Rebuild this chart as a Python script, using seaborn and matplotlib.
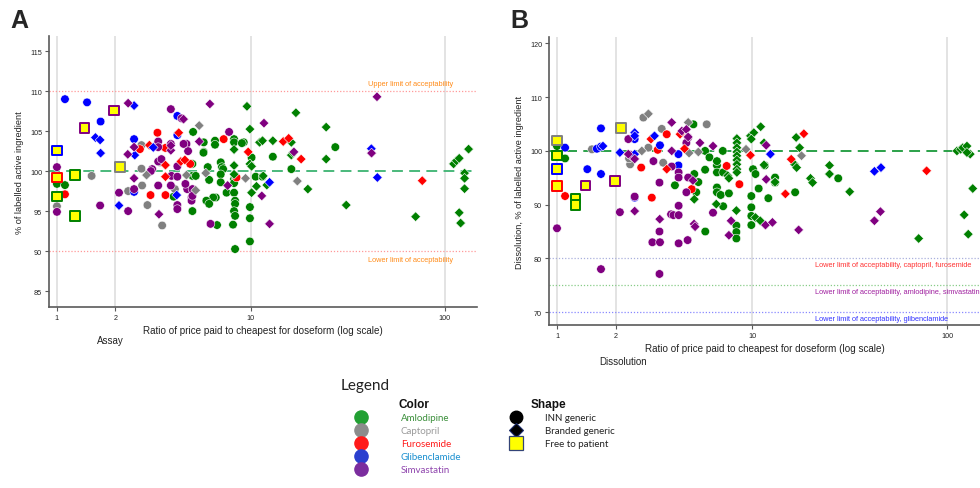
import numpy as np
import pandas as pd
import matplotlib
matplotlib.use("Agg")
import matplotlib.pyplot as plt
from matplotlib.lines import Line2D
import seaborn as sns

sns.set_theme(style="white")
plt.rcParams['font.family'] = ['Liberation Sans', 'DejaVu Sans']

# ---------------- categories / styles ----------------
drugs = ["Amlodipine", "Captopril", "Furosemide", "Glibenclamide", "Simvastatin"]
drug_colors = ["#008000", "#808080", "#ff0000", "#0000ff", "#800080"]
legend_marker_colors = ["#22a033", "#8c8c8c", "#ff1a1a", "#2a3fcf", "#7b2d9e"]
legend_text_colors = ["#3b8f3b", "#9a9a9a", "#ff1a1a", "#1a8fd0", "#8e44ad"]
shape_types = ["INN generic", "Branded generic", "Free to patient"]
x_ticks = [1, 2, 10, 100]
x_tick_labels = ["1", "2", "10", "100"]
assay_y_ticks = [85, 90, 95, 100, 105, 110, 115]
diss_y_ticks = [70, 80, 90, 100, 110, 120]

# ---------------- Panel A: Assay (ratio, % of labelled) ----------------
assay_amlodipine_inn = [
    (1.0, 98.4), (1.10, 98.25), (4.0, 96.8), (5.04, 104.9), (6.54, 103.8), (6.54, 103.3),
    (8.2, 104.0), (8.2, 103.6), (9.2, 103.6), (5.72, 103.6), (5.72, 102.4), (27.3, 103.0),
    (13.0, 101.8), (10.1, 101.7), (16.2, 100.25), (5.0, 100.9), (5.0, 99.4), (6.0, 100.5),
    (7.0, 101.1), (7.1, 100.5), (7.2, 100.25), (10.6, 99.3), (11.5, 99.3), (6.1, 98.9),
    (7.0, 99.6), (7.0, 98.6), (8.2, 99.0), (8.2, 98.5), (8.3, 99.4), (7.5, 97.3), (6.6, 96.7),
    (6.4, 96.7), (5.9, 96.3), (6.1, 95.9), (5.0, 95.0), (8.2, 97.3), (8.3, 96.3), (8.3, 95.9),
    (8.2, 95.0), (8.3, 94.4), (6.7, 93.25), (8.1, 93.3), (9.9, 95.5), (9.9, 94.1), (9.9, 91.2),
    (8.3, 90.25), (5.7, 102.3), (9.0, 103.5), (5.2, 99.4),
]
assay_amlodipine_branded = [
    (9.56, 108.1), (17.1, 107.3), (24.5, 105.5), (9.9, 105.25), (8.2, 102.7), (11.1, 103.6),
    (11.5, 103.8), (13.0, 103.8), (16.2, 103.6), (16.2, 102.0), (24.5, 101.5), (9.9, 100.9),
    (10.1, 100.6), (8.2, 100.7), (8.2, 99.6), (11.6, 99.4), (12.1, 98.25), (10.7, 98.1),
    (10.1, 97.3), (19.7, 97.75), (31.1, 95.75), (70.9, 94.3), (111.3, 100.9), (115.2, 101.3),
    (119.0, 101.6), (133.0, 102.75), (126.8, 99.75), (126.8, 99.1), (126.8, 97.8),
    (119.0, 94.8), (121.0, 93.5), (16.5, 102.3),
]
assay_captopril_inn = [
    (2.73, 103.25), (2.73, 100.3), (2.33, 97.5), (2.75, 98.2), (4.06, 97.75), (2.93, 95.75),
    (3.49, 93.2), (1.51, 99.4), (1.0, 95.6), (3.4, 101.1),
]
assay_captopril_branded = [
    (5.42, 105.7), (2.9, 99.5), (4.66, 99.5), (5.86, 99.75), (9.4, 99.1), (17.4, 98.75), (5.2, 97.6),
]
assay_furosemide_inn = [
    (1.10, 97.1), (2.68, 102.75), (3.3, 104.8), (3.63, 102.9), (4.87, 100.9), (3.04, 97.0),
    (3.63, 97.0), (7.25, 104.0), (8.45, 99.2),
]
assay_furosemide_branded = [
    (3.0, 103.25), (4.25, 104.8), (3.63, 100.75), (4.36, 101.2), (4.57, 101.4), (3.63, 99.3),
    (9.7, 102.4), (14.7, 103.7), (15.7, 104.1), (18.2, 101.5), (76.7, 98.8),
]
assay_glibenclamide_inn = [
    (1.10, 109.0), (1.43, 108.6), (4.18, 106.9), (1.68, 106.2), (2.5, 104.0), (4.18, 104.5), (2.5, 97.4),
]
assay_glibenclamide_branded = [
    (2.50, 108.2), (1.58, 104.2), (1.67, 103.9), (1.68, 102.25), (2.52, 102.0), (3.14, 102.96),
    (2.09, 95.7), (12.5, 98.6), (41.9, 102.8), (45.0, 99.2), (4.15, 97.0),
]
assay_simvastatin_inn = [
    (3.87, 107.75), (4.4, 106.6), (3.33, 103.7), (3.33, 103.0), (3.87, 103.4), (4.66, 103.4),
    (4.75, 102.5), (3.33, 101.2), (3.1, 100.25), (3.46, 101.5), (4.18, 100.6), (3.05, 100.0),
    (3.9, 99.4), (4.18, 99.3), (2.5, 97.75), (2.09, 97.3), (3.33, 98.2), (3.87, 98.2),
    (4.18, 95.75), (4.18, 95.25), (2.33, 95.0), (1.67, 95.7), (1.0, 94.9), (1.0, 100.5),
    (4.7, 97.75), (4.95, 96.7), (4.95, 96.3), (5.0, 97.75), (5.0, 96.9), (6.2, 93.4),
    (7.73, 104.9), (4.6, 98.4), (4.5, 103.4),
]
assay_simvastatin_branded = [
    (2.33, 108.5), (6.15, 108.4), (4.5, 106.5), (2.5, 103.0), (2.32, 102.1), (3.87, 102.6),
    (2.5, 99.1), (3.36, 94.6), (5.42, 103.7), (11.7, 106.0), (16.7, 102.4), (7.6, 98.2),
    (11.4, 96.9), (12.5, 93.4), (44.8, 109.3), (42.0, 102.25), (3.87, 103.2),
]
assay_free_to_patient = [
    (1.0, 102.6, "Glibenclamide"), (1.0, 99.2, "Furosemide"), (1.24, 99.5, "Amlodipine"),
    (1.0, 96.8, "Amlodipine"), (1.24, 94.4, "Amlodipine"), (1.39, 105.4, "Simvastatin"),
    (1.97, 107.6, "Simvastatin"), (2.12, 100.5, "Captopril"),
]

# ---------------- Panel B: Dissolution ----------------
diss_amlodipine_inn = [
    (1.0, 100.9), (1.10, 98.6), (4.02, 93.6), (5.0, 104.95), (7.07, 100.0), (5.74, 100.0),
    (6.04, 98.8), (6.6, 97.3), (5.74, 96.5), (6.6, 96.0), (7.1, 96.0), (5.05, 95.7),
    (10.1, 96.6), (10.4, 95.7), (11.6, 97.3), (13.1, 95.05), (13.1, 94.1), (10.8, 93.0),
    (12.1, 91.2), (9.9, 91.6), (9.9, 89.5), (9.9, 87.9), (16.6, 92.3), (6.6, 93.2), (6.6, 92.3),
    (6.9, 91.8), (7.1, 89.7), (7.6, 92.1), (5.75, 85.0), (8.3, 86.1), (8.3, 84.9), (8.3, 83.7),
    (9.9, 86.2), (27.6, 94.9), (5.3, 94.2), (5.17, 92.3), (6.6, 98.1),
]
diss_amlodipine_branded = [
    (11.06, 104.5), (9.8, 102.8), (10.2, 103.4), (9.9, 102.2), (16.8, 102.5), (8.35, 102.3),
    (8.35, 101.5), (8.35, 100.6), (8.35, 99.8), (8.35, 99.1), (8.35, 98.3), (8.35, 97.5),
    (8.35, 96.6), (8.35, 96.0), (11.5, 101.5), (17.5, 100.6), (16.5, 97.5), (16.9, 96.9),
    (24.9, 97.3), (24.9, 95.7), (19.9, 94.9), (20.4, 94.1), (7.5, 95.4), (7.6, 94.9),
    (5.05, 91.0), (6.55, 90.1), (8.3, 88.9), (10.4, 87.6), (11.0, 87.0), (31.6, 92.4),
    (112.0, 100.0), (117.0, 100.3), (120.0, 100.6), (126.0, 100.9), (131.0, 99.4), (126.0, 99.7),
    (135.0, 93.0), (122.0, 88.1), (128.0, 84.5), (71.3, 83.7), (13.1, 94.2), (11.5, 97.4),
]
diss_captopril_inn = [
    (2.77, 106.2), (3.44, 104.1), (1.51, 100.3), (2.37, 97.5), (2.94, 100.6), (3.5, 97.8),
    (5.85, 104.95), (2.34, 98.6),
]
diss_captopril_branded = [
    (2.94, 106.9), (4.7, 105.3), (2.72, 100.0), (5.3, 99.8), (9.3, 100.3), (17.9, 99.1), (4.75, 99.6),
]
diss_furosemide_inn = [
    (2.7, 96.9), (3.28, 100.2), (3.65, 103.1), (4.9, 92.9), (1.10, 91.6), (3.06, 91.3),
    (7.4, 97.2), (8.6, 93.8),
]
diss_furosemide_branded = [
    (3.03, 102.2), (3.65, 96.6), (4.27, 103.1), (4.5, 100.4), (9.8, 99.2), (18.4, 103.2),
    (15.85, 98.45), (14.8, 92.0), (78.3, 96.3),
]
diss_glibenclamide_inn = [
    (1.68, 104.2), (1.10, 100.6), (1.6, 100.4), (1.68, 100.8), (2.5, 102.2), (3.37, 101.05),
    (4.19, 99.4), (4.19, 97.3), (1.43, 96.6), (1.68, 95.7), (2.5, 91.3),
]
diss_glibenclamide_branded = [
    (2.1, 99.7), (2.5, 103.4), (2.5, 102.8), (2.5, 99.4), (3.16, 102.8), (12.4, 99.4),
    (42.3, 96.2), (45.7, 96.9), (1.72, 100.9),
]
diss_simvastatin_inn = [
    (2.32, 102.2), (3.12, 98.1), (3.87, 97.1), (4.2, 96.0), (4.2, 95.05), (4.7, 95.05),
    (4.7, 102.5), (4.6, 101.5), (3.35, 94.1), (4.6, 92.3), (1.0, 93.3), (2.5, 91.5),
    (2.1, 88.6), (1.0, 85.6), (3.84, 88.2), (3.95, 88.05), (4.2, 89.8), (4.2, 88.05),
    (3.35, 85.0), (3.08, 83.0), (3.37, 83.0), (4.2, 82.8), (4.67, 83.4), (1.68, 78.0),
    (3.35, 77.1), (6.3, 88.5), (2.37, 99.3), (2.45, 98.9),
]
diss_simvastatin_branded = [
    (3.87, 105.3), (3.87, 100.0), (4.36, 103.7), (4.6, 104.0), (2.32, 99.4), (2.5, 98.5),
    (2.5, 88.8), (3.36, 87.3), (5.4, 101.5), (6.3, 100.9), (11.8, 101.05), (11.8, 94.7),
    (7.6, 84.3), (7.8, 87.0), (11.7, 86.2), (12.7, 86.7), (17.3, 85.3), (45.4, 88.7),
    (42.3, 87.0), (4.97, 94.5), (4.7, 102.6), (5.04, 86.4), (5.1, 85.9),
]
diss_free_to_patient = [
    (1.0, 101.9, "Captopril"), (1.0, 99.1, "Amlodipine"), (1.0, 96.6, "Glibenclamide"),
    (1.0, 93.5, "Furosemide"), (1.24, 91.1, "Amlodipine"), (1.24, 89.9, "Amlodipine"),
    (1.40, 93.6, "Simvastatin"), (1.98, 94.4, "Simvastatin"), (2.13, 104.3, "Captopril"),
]


def build(groups, free):
    rows = []
    for drug, typ, pts in groups:
        for r, v in pts:
            rows.append((r, v, drug, typ))
    for r, v, drug in free:
        rows.append((r, v, drug, "Free to patient"))
    return pd.DataFrame(rows, columns=["ratio", "value", "drug", "type"])


assay_df = build([
    ("Amlodipine", "INN generic", assay_amlodipine_inn),
    ("Amlodipine", "Branded generic", assay_amlodipine_branded),
    ("Captopril", "INN generic", assay_captopril_inn),
    ("Captopril", "Branded generic", assay_captopril_branded),
    ("Furosemide", "INN generic", assay_furosemide_inn),
    ("Furosemide", "Branded generic", assay_furosemide_branded),
    ("Glibenclamide", "INN generic", assay_glibenclamide_inn),
    ("Glibenclamide", "Branded generic", assay_glibenclamide_branded),
    ("Simvastatin", "INN generic", assay_simvastatin_inn),
    ("Simvastatin", "Branded generic", assay_simvastatin_branded),
], assay_free_to_patient)

diss_df = build([
    ("Amlodipine", "INN generic", diss_amlodipine_inn),
    ("Amlodipine", "Branded generic", diss_amlodipine_branded),
    ("Captopril", "INN generic", diss_captopril_inn),
    ("Captopril", "Branded generic", diss_captopril_branded),
    ("Furosemide", "INN generic", diss_furosemide_inn),
    ("Furosemide", "Branded generic", diss_furosemide_branded),
    ("Glibenclamide", "INN generic", diss_glibenclamide_inn),
    ("Glibenclamide", "Branded generic", diss_glibenclamide_branded),
    ("Simvastatin", "INN generic", diss_simvastatin_inn),
    ("Simvastatin", "Branded generic", diss_simvastatin_branded),
], diss_free_to_patient)

palette = dict(zip(drugs, drug_colors))

W, H = 980, 489
fig = plt.figure(figsize=(W / 100, H / 100), dpi=100)


def px(x0, y0, x1, y1):
    return [x0 / W, 1 - y1 / H, (x1 - x0) / W, (y1 - y0) / H]


axA = fig.add_axes(px(49, 37, 477, 308))
axB = fig.add_axes(px(549, 38, 980, 326))


def draw_points(ax, df):
    for typ, marker, s in [("INN generic", "o", 38), ("Branded generic", "D", 25)]:
        sub = df[df["type"] == typ]
        sns.scatterplot(data=sub, x="ratio", y="value", hue="drug", hue_order=drugs,
                        palette=palette, marker=marker, s=s, edgecolor="white",
                        linewidth=0.4, legend=False, ax=ax, zorder=3)
    sub = df[df["type"] == "Free to patient"]
    sns.scatterplot(data=sub, x="ratio", y="value", marker="s", s=46, color="#ffff00",
                    edgecolor=[palette[d] for d in sub["drug"]], linewidth=1.4,
                    legend=False, ax=ax, zorder=4)


def style_axes(ax, yticks, ylim, ylabel):
    ax.set_xscale("log")
    ax.set_xlim(0.91, 147)
    ax.set_ylim(*ylim)
    ax.set_xticks(x_ticks)
    ax.set_xticklabels(x_tick_labels)
    ax.xaxis.set_minor_locator(matplotlib.ticker.NullLocator())
    ax.set_yticks(yticks)
    ax.grid(False)
    for xv in x_ticks:
        ax.axvline(xv, color="#e3e3e3", lw=1.4, zorder=0)
    for sp in ["top", "right"]:
        ax.spines[sp].set_visible(False)
    for sp in ["left", "bottom"]:
        ax.spines[sp].set_color("#5a5a5a")
        ax.spines[sp].set_linewidth(1.2)
    ax.tick_params(axis="both", which="major", length=3, width=0.8, color="#5a5a5a",
                   labelsize=5.2, labelcolor="#222222", pad=2, direction="out",
                   bottom=True, left=True)
    ax.set_ylabel(ylabel, fontsize=6.6, color="#222222", labelpad=4)
    ax.set_xlabel("Ratio of price paid to cheapest for doseform (log scale)",
                  fontsize=7.1, color="#222222", labelpad=3)
    ax.set_facecolor("white")


# Panel A
draw_points(axA, assay_df)
style_axes(axA, assay_y_ticks, (83.0, 116.9), "% of labelled active ingredient")
axA.axhline(110, color="#ff9999", lw=0.9, ls=(0, (1, 1.5)), zorder=1)
axA.axhline(90, color="#ff9999", lw=0.9, ls=(0, (1, 1.5)), zorder=1)
axA.axhline(100, color="#3cb371", lw=1.3, ls=(0, (6, 3.5)), zorder=2)
axA.text(67, 111.0, "Upper limit of acceptability", color="#ff8c1a", fontsize=5.3,
         ha="center", va="center")
axA.text(67, 88.9, "Lower limit of acceptability", color="#ff8c1a", fontsize=5.3,
         ha="center", va="center")

# Panel B
draw_points(axB, diss_df)
style_axes(axB, diss_y_ticks, (67.6, 121.2), "Dissolution, % of labelled active ingredient")
axB.axhline(80, color="#aab0dd", lw=0.9, ls=(0, (1, 1.5)), zorder=1)
axB.axhline(75, color="#88cc88", lw=0.9, ls=(0, (1, 1.5)), zorder=1)
axB.axhline(70, color="#8888ff", lw=0.9, ls=(0, (1, 1.5)), zorder=1)
axB.axhline(100, color="#1a9a3a", lw=1.3, ls=(0, (6, 3.5)), zorder=2)
axB.text(21.0, 78.8, "Lower limit of acceptability, captopril, furosemide", color="#ff3333",
         fontsize=5.3, ha="left", va="center", clip_on=False)
axB.text(21.0, 73.9, "Lower limit of acceptability, amlodipine, simvastatin", color="#a020a0",
         fontsize=5.3, ha="left", va="center", clip_on=True)
axB.text(21.0, 68.9, "Lower limit of acceptability, glibenclamide", color="#3333ff",
         fontsize=5.3, ha="left", va="center")

# Panel letters and captions
fig.text(10 / W, 1 - 21 / H, "A", fontsize=18, fontweight="bold", ha="left", va="center",
         family=["Liberation Sans"])
fig.text(510 / W, 1 - 21 / H, "B", fontsize=18, fontweight="bold", ha="left", va="center",
         family=["Liberation Sans"])
fig.text(97 / W, 1 - 341 / H, "Assay", fontsize=7, color="#222222", ha="left", va="center")
fig.text(599 / W, 1 - 362 / H, "Dissolution", fontsize=7, color="#222222", ha="left", va="center")

# Legend block
lfont = ["Lato", "DejaVu Sans"]
fig.text(341 / W, 1 - 386 / H, "Legend", fontsize=11, color="#222222", ha="left", va="center",
         family=lfont)
fig.text(398 / W, 1 - 405 / H, "Color", fontsize=8.5, fontweight="bold", color="#111111",
         ha="left", va="center", family=["Liberation Sans"])
fig.text(531 / W, 1 - 405 / H, "Shape", fontsize=8.5, fontweight="bold", color="#111111",
         ha="left", va="center", family=["Liberation Sans"])

color_handles = [Line2D([], [], ls="", marker="o", markersize=9.5, markerfacecolor=c,
                        markeredgecolor=c) for c in legend_marker_colors]
leg1 = fig.legend(color_handles, drugs, loc="upper left", bbox_to_anchor=(354 / W, 1 - 414 / H),
                  frameon=False, handlelength=1.5, handletextpad=3.3,
                  labelspacing=0.42, borderpad=0, borderaxespad=0,
                  prop={"family": lfont, "size": 7})
for t, c in zip(leg1.get_texts(), legend_text_colors):
    t.set_color(c)

shape_handles = [
    Line2D([], [], ls="", marker="o", markersize=9, markerfacecolor="black", markeredgecolor="black"),
    Line2D([], [], ls="", marker="D", markersize=7, markerfacecolor="black", markeredgecolor="#1a2a6a",
           markeredgewidth=0.8),
    Line2D([], [], ls="", marker="s", markersize=9.5, markerfacecolor="#ffff00",
           markeredgecolor="#334477", markeredgewidth=0.9),
]
leg2 = fig.legend(shape_handles, shape_types, loc="upper left", bbox_to_anchor=(509 / W, 1 - 414 / H),
                  frameon=False, handlelength=1.5, handletextpad=2.2,
                  labelspacing=0.42, borderpad=0, borderaxespad=0,
                  prop={"family": lfont, "size": 7})
for t in leg2.get_texts():
    t.set_color("#222222")

fig.savefig("out.png", dpi=100, facecolor="white")
